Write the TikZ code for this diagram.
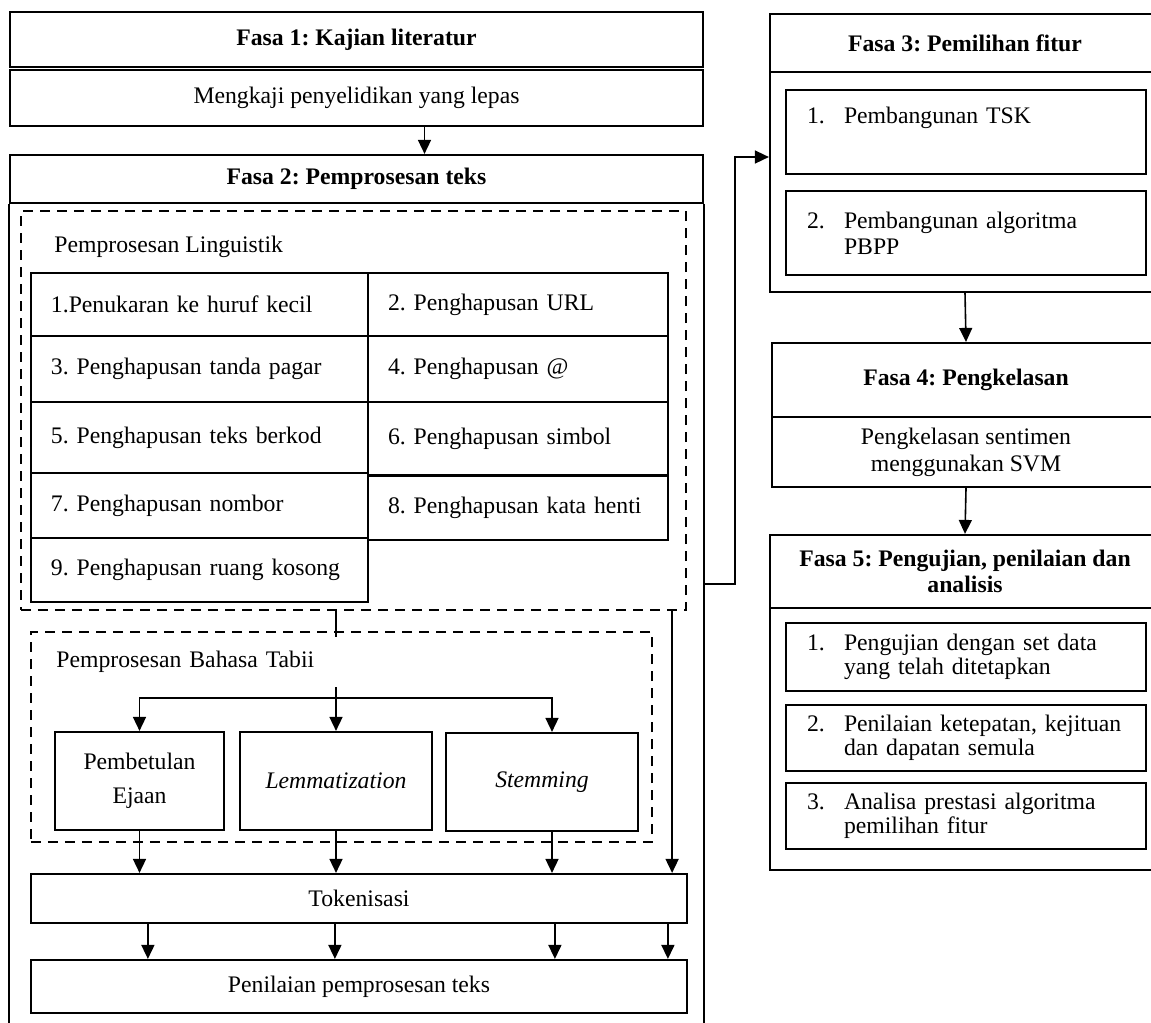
\documentclass[tikz,border=0pt]{standalone}
\usepackage{fontspec}
\setmainfont{Liberation Serif}
\usetikzlibrary{arrows.meta}
\frenchspacing

\begin{document}
\begin{tikzpicture}[x=0.5bp, y=-0.5bp,
    font=\fontsize{11.9}{14}\selectfont,
    >={Triangle[length=7bp,width=6.5bp]},
    plainbox/.style={draw, line width=1.1bp, inner sep=0pt},
    phase/.style={plainbox, align=center, font=\fontsize{11.9}{13}\selectfont\bfseries},
    dashgroup/.style={draw, line width=1.1bp, dash pattern=on 5bp off 3.5bp, inner sep=0pt},
    cellleft/.style={plainbox, align=left, inner xsep=10bp, text width=148.5bp},
    cellright/.style={plainbox, align=left, inner xsep=10bp, text width=130bp},
    subbox/.style={plainbox, align=left, inner xsep=10.5bp, text width=159bp},
    link/.style={line width=0.8bp}]
    \clip (0,0) rectangle (1151,1022);

    % Fasa 1
    \node[phase, minimum width=346.5bp, minimum height=27.5bp] at (356.5, 39.5)  (fasa_1)    {Fasa 1: Kajian literatur};
    \node[plainbox, minimum width=346.5bp, minimum height=28bp] at (356.5, 98)  (kaji_1)    {Mengkaji penyelidikan yang lepas};

    % Fasa 2
    \node[phase, minimum width=346.5bp, minimum height=24bp] at (356.5, 179)  (fasa_2)    {Fasa 2: Pemprosesan teks};
    \draw[plainbox] (fasa_2.south west) -- ++(0, 830);
    \draw[plainbox] (fasa_2.south east) -- ++(0, 830);
    \draw[->, link]  ([xshift=34bp]kaji_1.south) -- ([xshift=34bp]fasa_2.north);

    \node[dashgroup, minimum width=332.5bp, minimum height=199.5bp] at (353.5, 410.5)  (ling)    {};
    \node[anchor=west, inner sep=0pt] at (54, 247)  (ling_t)    {Pemprosesan Linguistik};
    \node[cellleft, minimum height=31.5bp] at (199.5, 304.5)  (c_1)    {1.Penukaran ke huruf kecil};
    \node[cellright, minimum height=31.5bp] at (518, 304.5)  (c_2)    {2. Penghapusan URL};
    \node[cellleft, minimum height=33bp] at (199.5, 369)  (c_3)    {3. Penghapusan tanda pagar};
    \node[cellright, minimum height=33bp] at (518, 369)  (c_4)    {4. Penghapusan @};
    \node[cellleft, minimum height=35.5bp] at (199.5, 437.5)  (c_5)    {5. Penghapusan teks berkod};
    \node[cellright, minimum height=36.5bp] at (518, 438.5)  (c_6)    {6. Penghapusan simbol};
    \node[cellleft, minimum height=32.5bp] at (199.5, 505.5)  (c_7)    {7. Penghapusan nombor};
    \node[cellright, minimum height=32bp] at (518, 508)  (c_8)    {8. Penghapusan kata henti};
    \node[cellleft, minimum height=32bp] at (199.5, 570)  (c_9)    {9. Penghapusan ruang kosong};

    \node[dashgroup, minimum width=310.5bp, minimum height=105bp] at (341.5, 737)  (nlp)    {};
    \coordinate (split) at (336, 698);
    \draw[link] (ling.south -| split) -- (split);
    \node[anchor=west, fill=white, align=left, inner ysep=0pt, inner xsep=8bp, text width=136.5bp, minimum height=25bp] at (40, 662)  (nlp_t)    {Pemprosesan Bahasa Tabii};
    \node[plainbox, align=center, font=\fontsize{11.9}{17}\selectfont, minimum width=84.5bp, minimum height=49bp] at (139.5, 781)  (ejaan)    {Pembetulan\\Ejaan};
    \node[plainbox, font=\fontsize{11.9}{14}\selectfont\itshape, minimum width=96bp, minimum height=49bp] at (336, 781)  (lemma)    {Lemmatization};
    \node[plainbox, font=\fontsize{11.9}{14}\selectfont\itshape, minimum width=96bp, minimum height=49bp] at (542, 782)  (stem)    {Stemming};
    \draw[->, link]  (split) -| (ejaan.north);
    \draw[->, link]  (split) -- (lemma.north);
    \draw[->, link]  (split) -| ([xshift=5bp]stem.north);

    \node[plainbox, minimum width=328bp, minimum height=24.5bp] at (359, 898.5)  (token)    {Tokenisasi};
    \node[plainbox, minimum width=328bp, minimum height=26.5bp] at (359, 986.5)  (nilai)    {Penilaian pemprosesan teks};
    \draw[->, link]  (ejaan.south) -- (ejaan.south |- token.north);
    \draw[->, link]  (lemma.south) -- (lemma.south |- token.north);
    \draw[->, link]  ([xshift=5bp]stem.south) -- ([xshift=5bp]stem.south |- token.north);
    \draw[->, link]  ([xshift=-7.5bp]ling.south east) -- ([xshift=-7.5bp]ling.south east |- token.north);
    \draw[->, link]  ([xshift=59bp]token.south west) -- ([xshift=59bp]token.south west |- nilai.north);
    \draw[->, link]  ([xshift=152.5bp]token.south west) -- ([xshift=152.5bp]token.south west |- nilai.north);
    \draw[->, link]  ([xshift=262.5bp]token.south west) -- ([xshift=262.5bp]token.south west |- nilai.north);
    \draw[->, link]  ([xshift=319bp]token.south west) -- ([xshift=319bp]token.south west |- nilai.north);

    % Fasa 3
    \node[phase, minimum width=195bp, minimum height=29bp] at (965, 43)  (fasa_3)    {Fasa 3: Pemilihan fitur};
    \node[plainbox, minimum width=195bp, minimum height=110bp] at (965, 182)  (fasa_3_b)    {};
    \node[subbox, font=\fontsize{11.9}{13}\selectfont, minimum height=42bp] at (966, 132)  (fitur_1)    {\makebox[18.5bp][l]{1.}Pembangunan TSK\\\strut};
    \node[subbox, font=\fontsize{11.9}{13}\selectfont, minimum height=42bp] at (966, 233)  (fitur_2)    {\makebox[18.5bp][l]{2.}Pembangunan algoritma\\\hspace*{18.5bp}PBPP};
    \draw[->, link]  ([yshift=-190bp]fasa_2.south east) -- ++(31, 0) |- ([yshift=12.5bp]fasa_3_b.west);

    % Fasa 4
    \node[phase, minimum width=194bp, minimum height=37bp] at (966, 380)  (fasa_4)    {Fasa 4: Pengkelasan};
    \node[plainbox, align=center, font=\fontsize{11.9}{13.5}\selectfont, minimum width=194bp, minimum height=35bp] at (966, 452)  (kelas_4)    {Pengkelasan sentimen\\menggunakan SVM};
    \draw[->, link]  (fasa_3_b.south) -- (fasa_4.north);

    % Fasa 5
    \node[phase, minimum width=195bp, minimum height=36.5bp] at (965, 571.5)  (fasa_5)    {Fasa 5: Pengujian, penilaian dan\\analisis};
    \node[plainbox, minimum width=195bp, minimum height=131bp] at (965, 739)  (fasa_5_b)    {};
    \node[subbox, font=\fontsize{11.9}{12}\selectfont, minimum height=34bp] at (966, 657)  (uji_1)    {\makebox[18.5bp][l]{1.}Pengujian dengan set data\\\hspace*{18.5bp}yang telah ditetapkan};
    \node[subbox, font=\fontsize{11.9}{12}\selectfont, minimum height=33bp] at (966, 738)  (uji_2)    {\makebox[18.5bp][l]{2.}Penilaian ketepatan, kejituan\\\hspace*{18.5bp}dan dapatan semula};
    \node[subbox, font=\fontsize{11.9}{12}\selectfont, minimum height=33bp] at (966, 816)  (uji_3)    {\makebox[18.5bp][l]{3.}Analisa prestasi algoritma\\\hspace*{18.5bp}pemilihan fitur};
    \draw[->, link]  (kelas_4.south) -- (fasa_5.north);
  \end{tikzpicture}
\end{document}
